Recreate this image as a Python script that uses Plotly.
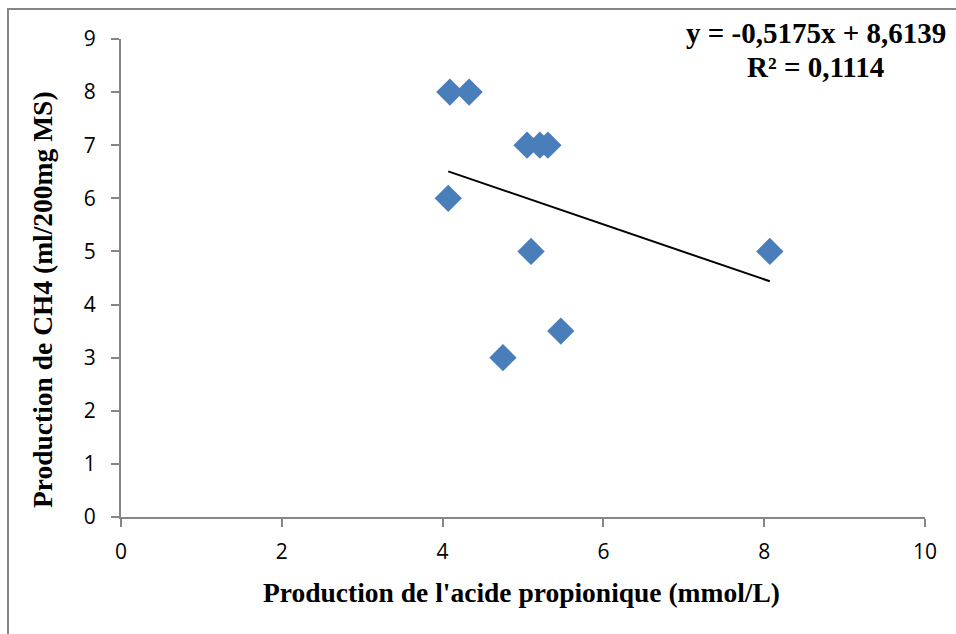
import plotly.graph_objects as go

x_vals = [4.09, 4.33, 4.07, 5.05, 5.21, 5.31, 5.10, 4.75, 5.47, 8.07]
y_vals = [8, 8, 6, 7, 7, 7, 5, 3, 3.5, 5]
slope = -0.5175
intercept = 8.6139
r2 = 0.1114
x_ticks = [0, 2, 4, 6, 8, 10]
y_ticks = [0, 1, 2, 3, 4, 5, 6, 7, 8, 9]
x_title = "Production de l'acide propionique (mmol/L)"
y_title = "Production de CH4 (ml/200mg MS)"

W, H = 956, 634
L, R, T, B = 121, 31, 39, 117
pw, ph = W - L - R, H - T - B

def px_x(p):
    return (p - L) / pw

def px_y(p):
    return (H - B - p) / ph

xmin, xmax = min(x_vals), max(x_vals)
trend_x = [xmin, xmax]
trend_y = [slope * v + intercept for v in trend_x]

fig = go.Figure()
fig.add_trace(go.Scatter(x=trend_x, y=trend_y, mode="lines",
                         line=dict(color="black", width=2), hoverinfo="skip"))
fig.add_trace(go.Scatter(x=x_vals, y=y_vals, mode="markers",
                         marker=dict(symbol="diamond", size=21, color="#4A7EBB",
                                     line=dict(width=0))))

axis_common = dict(showgrid=False, zeroline=False, showline=True, linecolor="#868686",
                   linewidth=2, ticks="outside", ticklen=8, tickcolor="#868686", tickwidth=2,
                   tickfont=dict(family="Open Sans, Liberation Sans", size=21, color="black"))
fig.update_xaxes(range=[0, 10], tickvals=x_ticks, ticklabelstandoff=7, **axis_common)
fig.update_yaxes(range=[0, 9], tickvals=y_ticks, ticklabelstandoff=11, **axis_common)

title_font = dict(family="Liberation Serif", size=27.5, color="black", weight="bold")
fig.add_annotation(xref="paper", yref="paper", x=px_x(521.5), y=px_y(592),
                   xanchor="center", yanchor="middle", showarrow=False,
                   text=x_title, font=title_font)
fig.add_annotation(xref="paper", yref="paper", x=px_x(42), y=px_y(300),
                   xanchor="center", yanchor="middle", showarrow=False, textangle=-90,
                   text=y_title, font=title_font)

eq_font = dict(family="Liberation Serif", size=29, color="black", weight="bold")
eq_text = f"y = {slope:.4f}x + {intercept:.4f}".replace(".", ",")
r2_text = f"R² = {r2:.4f}".replace(".", ",")
fig.add_annotation(xref="paper", yref="paper", x=px_x(816), y=px_y(33),
                   xanchor="center", yanchor="middle", showarrow=False,
                   text=eq_text, font=eq_font)
fig.add_annotation(xref="paper", yref="paper", x=px_x(815), y=px_y(67),
                   xanchor="center", yanchor="middle", showarrow=False,
                   text=r2_text, font=eq_font)

fig.add_shape(type="rect", xref="paper", yref="paper",
              x0=px_x(8), x1=px_x(W + 5),
              y0=px_y(H + 5), y1=px_y(9),
              line=dict(color="#868686", width=2), fillcolor="rgba(0,0,0,0)")

fig.update_layout(width=W, height=H, margin=dict(l=L, r=R, t=T, b=B),
                  plot_bgcolor="white", paper_bgcolor="white", showlegend=False)
fig.write_html("out.html")
